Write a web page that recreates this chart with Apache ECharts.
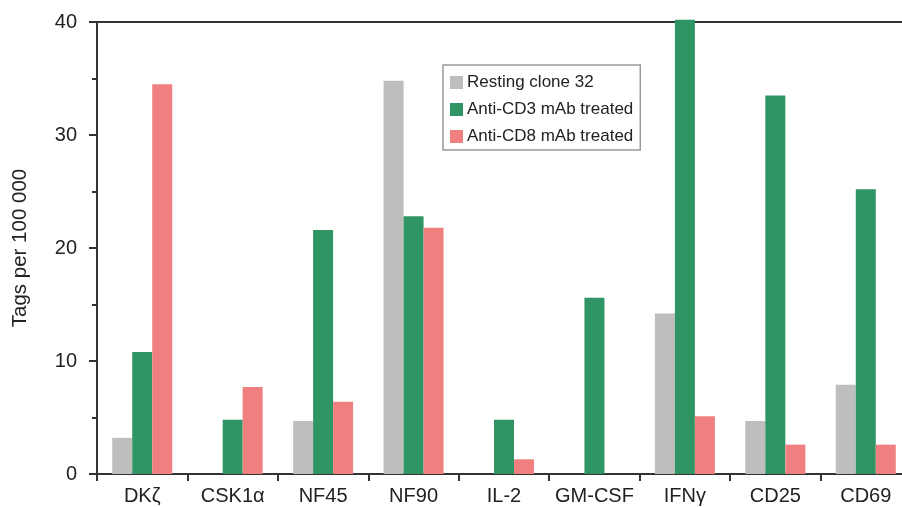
<!DOCTYPE html>
<html>
<head>
<meta charset="utf-8">
<script src="https://cdn.jsdelivr.net/npm/echarts@6/dist/echarts.min.js"></script>
<style>
  html, body { margin: 0; padding: 0; background: #fff; }
  #chart { width: 902px; height: 507px; }
</style>
</head>
<body>
<div id="chart"></div>
<script>
const categories = ['DKζ', 'CSK1α', 'NF45', 'NF90', 'IL-2', 'GM-CSF', 'IFNγ', 'CD25', 'CD69'];
const seriesNames = ['Resting clone 32', 'Anti-CD3 mAb treated', 'Anti-CD8 mAb treated'];
const resting = [3.2, 0, 4.7, 34.8, 0, 0, 14.2, 4.7, 7.9];
const antiCD3 = [10.8, 4.8, 21.6, 22.8, 4.8, 15.6, 40.2, 33.5, 25.2];
const antiCD8 = [34.5, 7.7, 6.4, 21.8, 1.3, 0, 5.1, 2.6, 2.6];
const yTicks = [0, 10, 20, 30, 40];

const colorSet = ['#bebebe', '#2f9565', '#f08080'];
const fontFamily = 'Liberation Sans, Arial, sans-serif';

const chart = echarts.init(document.getElementById('chart'));

const option = {
  animation: false,
  textStyle: { fontFamily },
  grid: {
    left: 97,
    top: 22,
    width: 814,
    height: 452,
    containLabel: false,
    outerBoundsMode: 'none'
  },
  legend: {
    orient: 'vertical',
    left: 443,
    top: 65,
    itemWidth: 13,
    itemHeight: 13,
    itemGap: 10,
    padding: [9, 7, 5, 7],
    borderColor: '#999',
    borderWidth: 1.5,
    icon: 'rect',
    textStyle: {
      fontSize: 17,
      color: '#222',
      lineHeight: 17,
      padding: [0, 0, 0, -1]
    },
    data: seriesNames
  },
  xAxis: [
    {
      type: 'category',
      data: categories,
      axisLine: { lineStyle: { color: '#333', width: 2 } },
      axisTick: { show: true, interval: 0, length: 7, lineStyle: { color: '#333', width: 2 } },
      axisLabel: { interval: 0, fontSize: 20, color: '#222', margin: 12 },
      splitLine: { show: false }
    },
    {
      // top frame line only
      type: 'category',
      position: 'top',
      data: categories,
      axisLine: { show: true, lineStyle: { color: '#333', width: 2 } },
      axisTick: { show: false },
      axisLabel: { show: false },
      splitLine: { show: false }
    }
  ],
  yAxis: {
    type: 'value',
    min: yTicks[0],
    max: yTicks[yTicks.length - 1],
    interval: 10,
    name: 'Tags per 100 000',
    nameLocation: 'middle',
    nameGap: 66,
    nameTextStyle: { fontSize: 20.5, color: '#222' },
    axisLine: { show: true, lineStyle: { color: '#333', width: 2 } },
    axisTick: { show: true, length: 8, lineStyle: { color: '#333', width: 2 } },
    minorTick: { show: true, splitNumber: 2, length: 5, lineStyle: { color: '#333', width: 2 } },
    axisLabel: { fontSize: 20, color: '#222', margin: 20 },
    splitLine: { show: false }
  },
  series: [resting, antiCD3, antiCD8].map((values, idx) => {
    return {
      name: seriesNames[idx],
      type: 'bar',
      data: values,
      barWidth: 20,
      barGap: '0%',
      clip: false,
      itemStyle: { color: colorSet[idx] }
    };
  })
};

chart.setOption(option);
</script>
</body>
</html>
